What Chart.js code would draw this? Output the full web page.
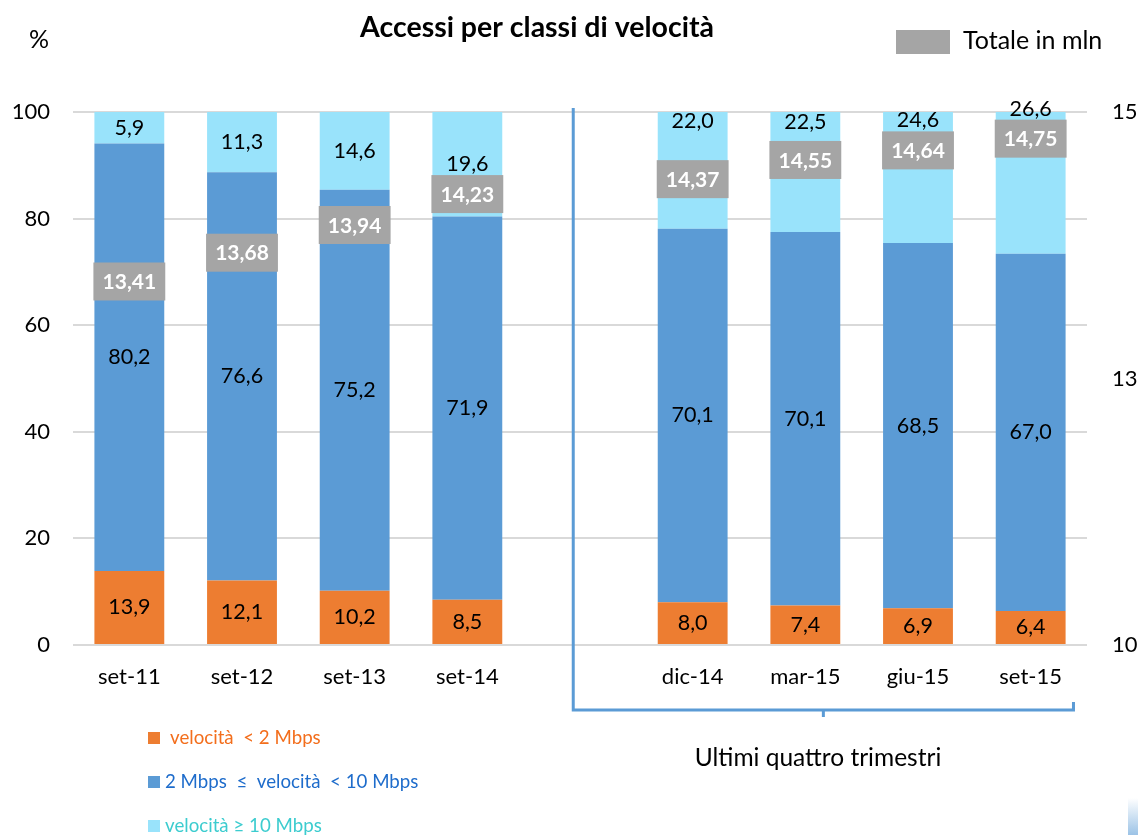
<!DOCTYPE html>
<html><head><meta charset="utf-8">
<script src="https://cdn.jsdelivr.net/npm/chart.js@4/dist/chart.umd.min.js"></script>
<style>html,body{margin:0;padding:0;background:#fff;}#wrap{width:1138px;height:835px;position:relative;}</style>
</head><body><div id="wrap"><canvas id="c" width="1138" height="835"></canvas></div>
<script>
const categories = ['set-11','set-12','set-13','set-14','','dic-14','mar-15','giu-15','set-15'];
const lowSpeed  = [13.9,12.1,10.2,8.5,null,8.0,7.4,6.9,6.4];
const midSpeed  = [80.2,76.6,75.2,71.9,null,70.1,70.1,68.5,67.0];
const highSpeed = [5.9,11.3,14.6,19.6,null,22.0,22.5,24.6,26.6];
const totals    = [13.41,13.68,13.94,14.23,null,14.37,14.55,14.64,14.75];
const leftTicks  = [0,20,40,60,80,100];
const rightTicks = [10,12.5,15];

const FONT = 'Lato, "Open Sans", sans-serif';
const fmt = v => v.toFixed(1).replace('.', ',');
const fmt2 = v => v.toFixed(2).replace('.', ',');

const C_LOW = '#ED7D31', C_MID = '#5B9BD5', C_HIGH = '#99E3FB', C_GRAY = '#A5A5A5';

const overlay = {
  id: 'overlay',
  afterDatasetsDraw(chart) {
    const ctx = chart.ctx;
    const boxMeta = chart.getDatasetMeta(3);
    const boxes = [];
    const barMeta = chart.getDatasetMeta(1);
    boxMeta.data.forEach((pt, i) => {
      if (totals[i] == null) return;
      const bw = barMeta.data[i].width + 2;
      const bh = 38;
      const bx = pt.x - bw / 2, by = pt.y - bh / 2;
      boxes[i] = {top: by, bottom: by + bh};
      ctx.save();
      ctx.fillStyle = C_GRAY;
      ctx.fillRect(bx, by, bw, bh);
      ctx.fillStyle = '#fff';
      ctx.font = 'bold 21px ' + FONT;
      ctx.textAlign = 'center'; ctx.textBaseline = 'middle';
      ctx.fillText(fmt2(totals[i]), pt.x, pt.y + 1);
      ctx.restore();
    });
    const sets = [lowSpeed, midSpeed, highSpeed];
    ctx.save();
    ctx.font = '21.5px ' + FONT;
    ctx.fillStyle = '#000';
    ctx.textAlign = 'center'; ctx.textBaseline = 'middle';
    sets.forEach((arr, d) => {
      const meta = chart.getDatasetMeta(d);
      meta.data.forEach((el, i) => {
        if (arr[i] == null) return;
        const p = el.getProps(['x','y','base'], true);
        const top = Math.min(p.y, p.base), bot = Math.max(p.y, p.base);
        let cy = (top + bot) / 2;
        const b = boxes[i];
        if (d === 2 && b && cy + 10 > b.top) {
          cy = Math.min(top + 10, b.top - 11);
        }
        ctx.fillText(fmt(arr[i]), p.x, cy);
      });
    });
    ctx.restore();
  },
  afterDraw(chart) {
    const ctx = chart.ctx;
    const x = chart.scales.x;
    const step = x.getPixelForValue(1) - x.getPixelForValue(0);
    const lx = x.getPixelForValue(4) - step * 0.06;
    const rx = x.getPixelForValue(8) + step * 0.38;
    const topY = 108, botY = 710;
    ctx.save();
    ctx.strokeStyle = C_MID; ctx.lineWidth = 3;
    ctx.beginPath();
    ctx.moveTo(lx, topY); ctx.lineTo(lx, botY); ctx.lineTo(rx, botY); ctx.lineTo(rx, botY - 8);
    ctx.stroke();
    const mx = (lx + rx) / 2;
    ctx.beginPath(); ctx.moveTo(mx, botY); ctx.lineTo(mx, botY + 7); ctx.stroke();
    ctx.restore();

    ctx.save();
    ctx.fillStyle = '#000';
    ctx.textBaseline = 'middle';
    ctx.font = '24.5px ' + FONT;
    ctx.textAlign = 'center';
    ctx.fillText('Ultimi quattro trimestri', 818, 758);
    ctx.font = 'bold 28.5px ' + FONT;
    ctx.fillText('Accessi per classi di velocità', 537, 28);
    ctx.font = '25px ' + FONT;
    ctx.textAlign = 'left';
    ctx.fillText('%', 29, 40);
    ctx.fillStyle = C_GRAY;
    ctx.fillRect(896, 30, 54, 24);
    ctx.fillStyle = '#000';
    ctx.font = '25px ' + FONT;
    ctx.fillText('Totale in mln', 963, 41);
    const items = [
      {c: C_LOW, t: 'velocità  < 2 Mbps', tc: '#F36E1C', y: 738, tx: 170},
      {c: C_MID, t: '2 Mbps  \u2264  velocità  < 10 Mbps', tc: '#1E6CCB', y: 782, tx: 165},
      {c: C_HIGH, t: 'velocità \u2265 10 Mbps', tc: '#3CCCCF', y: 826, tx: 165}
    ];
    ctx.font = '18.7px ' + FONT;
    items.forEach(it => {
      ctx.fillStyle = it.c;
      ctx.fillRect(148, it.y - 6, 12, 12);
      ctx.fillStyle = it.tc;
      ctx.fillText(it.t, it.tx, it.y);
    });
    const g = ctx.createLinearGradient(0, 798, 0, 835);
    g.addColorStop(0, '#ffffff'); g.addColorStop(1, '#9CC3E6');
    ctx.fillStyle = g;
    ctx.fillRect(1128, 798, 10, 37);
    ctx.restore();
  }
};

new Chart(document.getElementById('c'), {
  type: 'bar',
  data: {
    labels: categories,
    datasets: [
      {label: 'velocità < 2 Mbps', data: lowSpeed, backgroundColor: C_LOW, stack: 's', yAxisID: 'y', order: 3},
      {label: '2 Mbps ≤ velocità < 10 Mbps', data: midSpeed, backgroundColor: C_MID, stack: 's', yAxisID: 'y', order: 3},
      {label: 'velocità ≥ 10 Mbps', data: highSpeed, backgroundColor: C_HIGH, stack: 's', yAxisID: 'y', order: 3},
      {type: 'line', label: 'Totale in mln', data: totals, yAxisID: 'y2', showLine: false, pointRadius: 0, pointHoverRadius: 0, order: 1}
    ]
  },
  options: {
    responsive: false,
    animation: false,
    events: [],
    layout: {padding: {top: 112, bottom: 0, left: 0, right: 0}},
    plugins: {legend: {display: false}, tooltip: {enabled: false}, title: {display: false}},
    datasets: {bar: {barPercentage: 0.62, categoryPercentage: 1.0, borderWidth: 0}},
    scales: {
      x: {
        stacked: true,
        grid: {display: false, drawTicks: false},
        border: {display: false},
        ticks: {font: {family: FONT, size: 22}, color: '#000', padding: 19, maxRotation: 0, autoSkip: false},
        afterFit(s) { s.height = 190; }
      },
      y: {
        stacked: true, position: 'left', min: 0, max: 100,
        afterBuildTicks(s) { s.ticks = leftTicks.map(v => ({value: v})); },
        grid: {color: '#D9D9D9', lineWidth: 2, drawTicks: false},
        border: {display: false},
        ticks: {font: {family: FONT, size: 22}, color: '#000', padding: 23},
        afterFit(s) { s.width = 73; }
      },
      y2: {
        position: 'right', min: 10, max: 15,
        afterBuildTicks(s) { s.ticks = rightTicks.map(v => ({value: v})); },
        grid: {display: false, drawTicks: false},
        border: {display: false},
        ticks: {font: {family: FONT, size: 22}, color: '#000', padding: 25, callback: v => String(Math.round(v))},
        afterFit(s) { s.width = 51; }
      }
    }
  },
  plugins: [overlay]
});
</script>
</body></html>
